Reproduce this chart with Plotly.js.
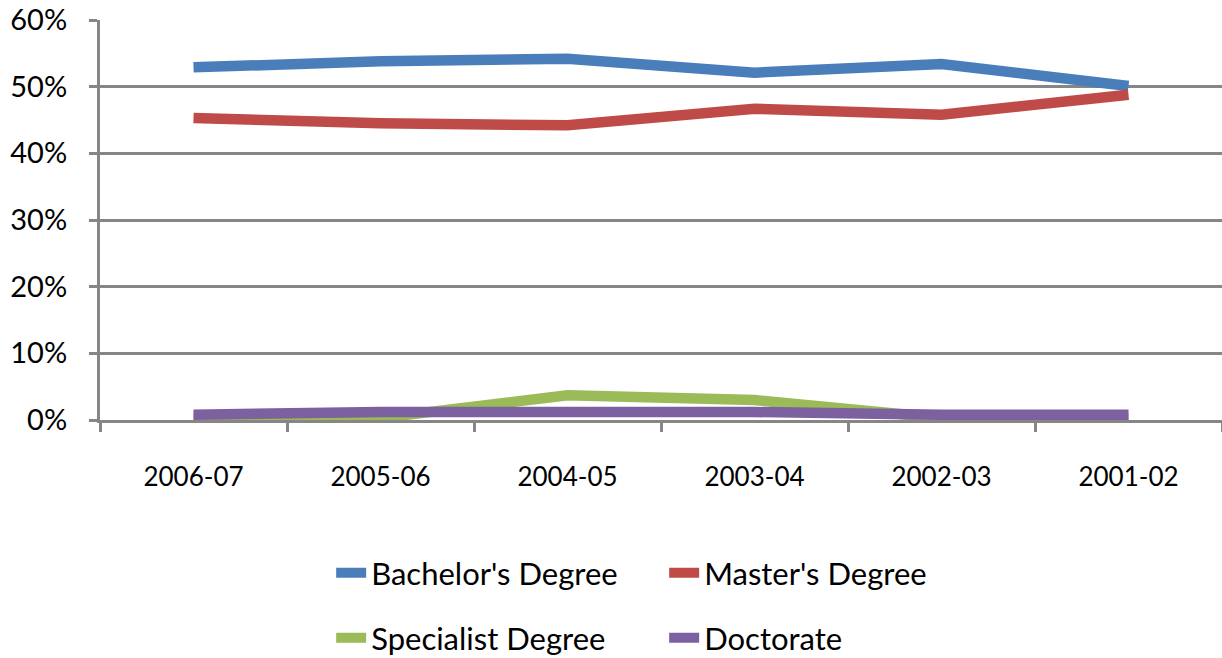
<!DOCTYPE html>
<html>
<head>
<meta charset="utf-8">
<script src="https://cdn.plot.ly/plotly-3.0.1.min.js"></script>
<style>html,body{margin:0;padding:0;background:#fff;}#chart{width:1222px;height:658px;}</style>
</head>
<body>
<div id="chart"></div>
<script>
var years = ["2006-07", "2005-06", "2004-05", "2003-04", "2002-03", "2001-02"];
var bachelor = [52.9, 53.8, 54.2, 52.1, 53.4, 50.1];
var master = [45.3, 44.5, 44.2, 46.7, 45.8, 48.8];
var specialist = [0.2, 0.3, 3.7, 3.0, 0.3, 0.3];
var doctorate = [0.8, 1.2, 1.2, 1.2, 0.8, 0.8];
var yTicks = [0, 10, 20, 30, 40, 50, 60];
var yTickText = ["0%", "10%", "20%", "30%", "40%", "50%", "60%"];

var font = "Lato, 'Open Sans', sans-serif";
function tr(name, y, color, leg) {
  return {x: years, y: y, name: name, type: "scatter", mode: "lines",
    line: {color: color, width: 10.5}, legend: leg, hoverinfo: "skip"};
}
var data = [
  tr("Bachelor's Degree", bachelor, "#4a7ebb", "legend"),
  tr("Master's Degree", master, "#be4b48", "legend"),
  tr("Specialist Degree", specialist, "#9bbb59", "legend2"),
  tr("Doctorate", doctorate, "#7d60a0", "legend2")
];
var legendCommon = {orientation: "h", xanchor: "left", yanchor: "middle",
  font: {family: font, size: 31, color: "#000"}, entrywidth: 288, entrywidthmode: "pixels",
  bgcolor: "rgba(0,0,0,0)", xref: "container", yref: "container"};
var layout = {
  width: 1222, height: 658,
  margin: {l: 100, r: 0, t: 20, b: 238},
  paper_bgcolor: "#fff", plot_bgcolor: "#fff",
  showlegend: true,
  xaxis: {type: "category", range: [-0.5, 5.5], showgrid: false, zeroline: false,
    showline: true, linecolor: "#868686", linewidth: 3,
    ticks: "outside", tickson: "boundaries", ticklen: 9, tickwidth: 3, tickcolor: "#868686",
    ticklabelstandoff: 32,
    tickfont: {family: font, size: 26, color: "#000"}},
  yaxis: {range: [0, 60], tickvals: yTicks, ticktext: yTickText,
    showgrid: true, gridcolor: "#868686", gridwidth: 3, zeroline: false,
    showline: true, linecolor: "#868686", linewidth: 3,
    ticks: "outside", ticklen: 8, tickwidth: 3, tickcolor: "#868686",
    ticklabelstandoff: 16,
    tickfont: {family: font, size: 29, color: "#000"}},
  legend: Object.assign({}, legendCommon, {x: 0.271, y: (658 - 573) / 658}),
  legend2: Object.assign({}, legendCommon, {x: 0.271, y: (658 - 638) / 658})
};
Plotly.newPlot("chart", data, layout, {displayModeBar: false, staticPlot: true});
</script>
</body>
</html>
